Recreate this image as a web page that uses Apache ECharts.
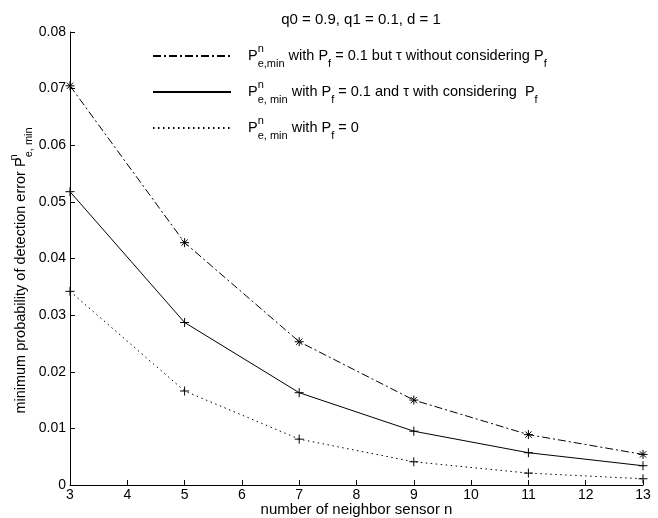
<!DOCTYPE html>
<html>
<head>
<meta charset="utf-8">
<script src="https://cdn.jsdelivr.net/npm/echarts@6/dist/echarts.min.js"></script>
<style>
  html, body { margin: 0; padding: 0; background: #fff; }
  #chart { width: 658px; height: 518px; }
</style>
</head>
<body>
<div id="chart"></div>
<script>
// number of neighbor sensors
const nValues = [3, 5, 7, 9, 11, 13]
// Pf = 0.1, tau chosen without considering Pf
const pWithout = [0.0705, 0.0428, 0.0253, 0.0150, 0.0089, 0.0054]
// Pf = 0.1, tau chosen considering Pf
const pWith = [0.0518, 0.0287, 0.0163, 0.0095, 0.0057, 0.0034]
// Pf = 0
const pZero = [0.0342, 0.0166, 0.0081, 0.0041, 0.0021, 0.0011]

const FONT = '"Liberation Sans", Arial, sans-serif'

// marker shapes drawn as open strokes
const plusSymbol = 'path://M5,0L5,10M0,5L10,5'
const starSymbol = 'path://M5,0L5,10M0,5L10,5M1.5,1.5L8.5,8.5M8.5,1.5L1.5,8.5'

const pairs = (ys) => nValues.map((n, i) => [n, ys[i]])

// rich styles: sup has ~zero width so the subscript sits under it
const makeRich = (size) => ({
  t: { fontSize: size, fontFamily: FONT, color: '#000', lineHeight: 26, verticalAlign: 'middle' },
  sup: { fontSize: 11, fontFamily: FONT, color: '#000', lineHeight: 26, verticalAlign: 'top', width: 0.01, align: 'left' },
  sub: { fontSize: 11, fontFamily: FONT, color: '#000', lineHeight: 26, verticalAlign: 'bottom' }
})
const legendText = {
  a: '{t|P}{sup|n}{sub|e,min}{t| with P}{sub|f}{t| = 0.1 but τ without considering P}{sub|f}',
  b: '{t|P}{sup|n}{sub|e, min}{t| with P}{sub|f}{t| = 0.1 and τ with considering  P}{sub|f}',
  c: '{t|P}{sup|n}{sub|e, min}{t| with P}{sub|f}{t| = 0}'
}

const lineSeries = (name, data, type, symbol) => ({
  name,
  type: 'line',
  data: pairs(data),
  symbol,
  symbolSize: 9,
  showSymbol: true,
  lineStyle: { color: '#000', width: 1, type },
  itemStyle: { color: '#000', borderColor: '#000', borderWidth: 1 },
  emphasis: { disabled: true },
  animation: false
})

const chart = echarts.init(document.getElementById('chart'))
chart.setOption({
  backgroundColor: '#fff',
  title: {
    text: 'q0 = 0.9, q1 = 0.1, d = 1',
    left: 356,
    top: 7,
    textAlign: 'center',
    textStyle: { fontFamily: FONT, fontSize: 15, fontWeight: 'normal', color: '#000' }
  },
  legend: {
    orient: 'vertical',
    left: 147,
    top: 38,
    itemWidth: 78,
    itemHeight: 12,
    itemGap: 10,
    itemStyle: { opacity: 0 },
    selectedMode: false,
    data: ['a', 'b', 'c'],
    formatter: (name) => legendText[name],
    textStyle: { padding: [0, 0, 0, 12], rich: makeRich(14.5) }
  },
  grid: { left: 70, right: 15, top: 32, bottom: 33, outerBoundsMode: 'none' },
  xAxis: {
    type: 'value',
    min: 3,
    max: 13,
    interval: 1,
    name: 'number of neighbor sensor n',
    nameLocation: 'middle',
    nameGap: 17,
    nameMoveOverlap: false,
    nameTextStyle: { fontFamily: FONT, fontSize: 15, color: '#000' },
    axisLine: { lineStyle: { color: '#000', width: 1 } },
    axisTick: { inside: true, length: 5, lineStyle: { color: '#000' } },
    axisLabel: { fontFamily: FONT, fontSize: 14, color: '#000', margin: 3 },
    splitLine: { show: false }
  },
  yAxis: {
    type: 'value',
    min: 0,
    max: 0.08,
    interval: 0.01,
    name: '{t|minimum probability of detection error P}{sup|n}{sub|e, min}',
    nameLocation: 'middle',
    nameGap: 36,
    nameMoveOverlap: false,
    nameRotate: 90,
    nameTextStyle: { rich: makeRich(14.5), padding: [0, 24, 0, 0] },
    axisLine: { show: true, lineStyle: { color: '#000', width: 1 } },
    axisTick: { show: true, inside: true, length: 5, lineStyle: { color: '#000' } },
    axisLabel: { fontFamily: FONT, fontSize: 14, color: '#000', margin: 4 },
    splitLine: { show: false }
  },
  series: [
    lineSeries('a', pWithout, [8, 3, 2, 3], starSymbol),
    lineSeries('b', pWith, 'solid', plusSymbol),
    lineSeries('c', pZero, [1.5, 3.5], plusSymbol)
  ]
})
</script>
</body>
</html>
